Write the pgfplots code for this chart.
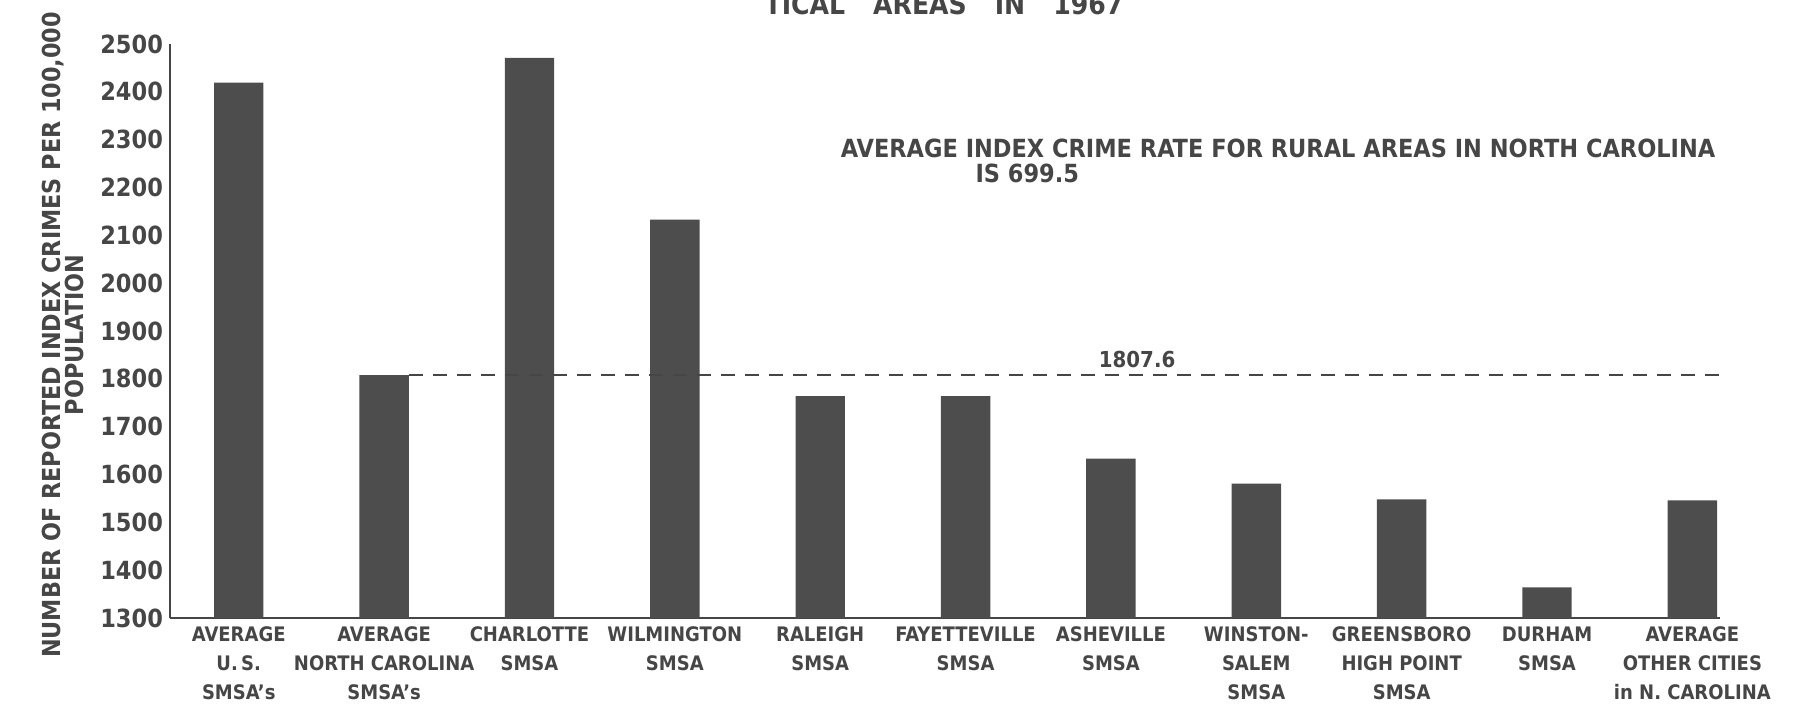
\documentclass[border=0pt]{standalone}
\usepackage{pgfplots}
\pgfplotsset{compat=1.18}
\usepackage{fontspec}
\setmainfont{DejaVu Sans Condensed}
\definecolor{ink}{RGB}{70,70,70}
\definecolor{barc}{RGB}{77,77,77}
\begin{document}
\begin{tikzpicture}[font=\bfseries, color=ink]
\path[use as bounding box] (-85pt,-45.5pt) rectangle (814.5pt,309pt);
\begin{axis}[
  at={(0pt,0pt)}, anchor=south west,
  scale only axis, width=775pt, height=287pt,
  xmin=-0.473, xmax=10.19, ymin=1300, ymax=2500,
  axis x line=bottom, axis y line=left,
  axis line style={-, line width=1.2pt, ink},
  ytick={1300,1400,...,2500},
  yticklabel style={font=\fontsize{12.5}{14}\selectfont\bfseries, color=ink, /pgf/number format/assume math mode=true},
  yticklabel={\pgfmathprintnumber[fixed, 1000 sep={}]{\tick}},
  xtick={0,...,10},
  xticklabels={
    {AVERAGE\\U.\,S.\\SMSA's},
    {AVERAGE\\NORTH CAROLINA\\SMSA's},
    {CHARLOTTE\\SMSA},
    {WILMINGTON\\SMSA},
    {RALEIGH\\SMSA},
    {FAYETTEVILLE\\SMSA},
    {ASHEVILLE\\SMSA},
    {WINSTON-\\SALEM\\SMSA},
    {GREENSBORO\\HIGH POINT\\SMSA},
    {DURHAM\\SMSA},
    {AVERAGE\\OTHER CITIES\\in N. CAROLINA}},
  xticklabel style={font=\fontsize{10}{14.3}\selectfont\bfseries, align=center, color=ink, yshift=-1pt},
  major tick length=0pt,
  ylabel={NUMBER OF REPORTED INDEX CRIMES PER 100,000\\POPULATION},
  ylabel style={align=center, anchor=center, font=\fontsize{12.4}{11.6}\selectfont\bfseries, color=ink, at={(axis description cs:-0.069,0.493)}},
  clip=false,
]
\addplot[ybar, bar width=0.34, fill=barc, draw=none] coordinates {
  (0,2419) (1,1807.6) (2,2471) (3,2133) (4,1764) (5,1764)
  (6,1633) (7,1581) (8,1548) (9,1364) (10,1546)
};
\addplot[dashed, line width=0.9pt, ink, dash pattern=on 7pt off 5pt] coordinates {(1.17,1807.6) (10.19,1807.6)};
\node[anchor=south, font=\fontsize{11}{13}\selectfont\bfseries] at (axis cs:6.18,1809) {1807.6};
\node[anchor=base, font=\fontsize{12.5}{13}\selectfont\bfseries] at (axis cs:7.15,2262) {AVERAGE INDEX CRIME RATE FOR RURAL AREAS IN NORTH CAROLINA};
\node[anchor=base west, font=\fontsize{12.5}{13}\selectfont\bfseries] at (axis cs:5.02,2210) {IS 699.5};
\end{axis}
\node[anchor=base, font=\fontsize{14}{16}\selectfont\bfseries] at (387pt,302pt) {TICAL\quad AREAS\quad IN\quad 1967};
\end{tikzpicture}
\end{document}
